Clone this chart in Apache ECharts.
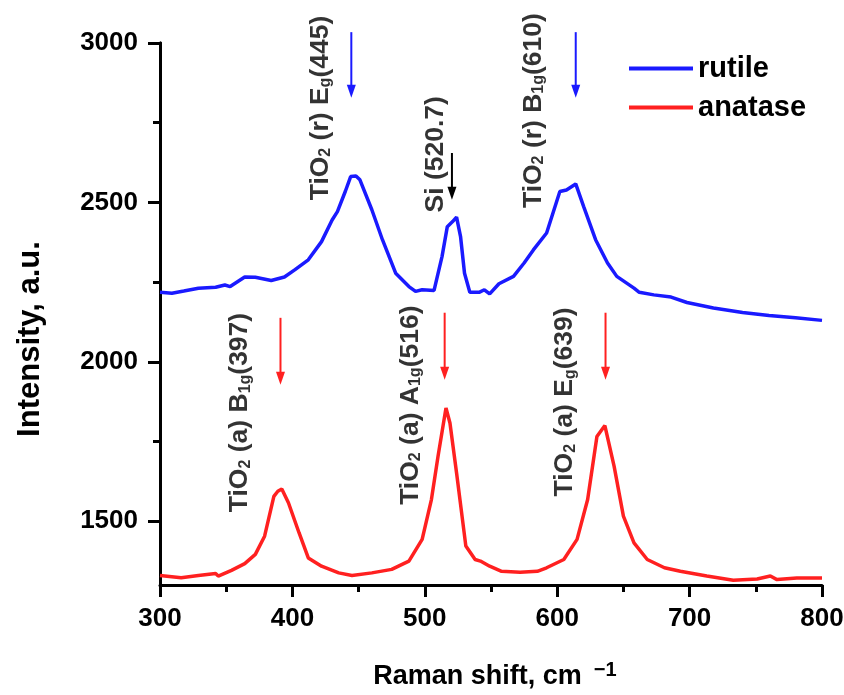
<!DOCTYPE html>
<html>
<head>
<meta charset="utf-8">
<script src="https://cdn.jsdelivr.net/npm/echarts@6/dist/echarts.min.js"></script>
<style>
  html, body { margin: 0; padding: 0; background: #fff; }
  #chart { width: 844px; height: 695px; }
</style>
</head>
<body>
<div id="chart"></div>
<script>
// rutile (blue) spectrum
const rutileShift = [300, 309, 318, 329, 342, 349, 353, 364, 372, 384, 394, 402, 412, 422, 430, 434, 440, 444, 448, 451, 460, 468, 478, 488, 493, 498, 507, 513, 517, 521, 524, 527, 530, 534, 541, 545, 549, 556, 567, 575, 582, 592, 602, 607, 614, 620, 629, 638, 645, 658, 662, 673, 686, 698, 718, 740, 760, 780, 800]
const rutileIntensity = [2218, 2215, 2222, 2231, 2234, 2241, 2236, 2266, 2265, 2255, 2266, 2289, 2320, 2377, 2445, 2471, 2535, 2581, 2583, 2571, 2477, 2383, 2278, 2236, 2221, 2226, 2224, 2330, 2424, 2440, 2454, 2393, 2278, 2218, 2218, 2226, 2213, 2245, 2268, 2310, 2351, 2404, 2534, 2539, 2558, 2487, 2383, 2310, 2268, 2231, 2218, 2210, 2203, 2186, 2169, 2155, 2145, 2138, 2130]

// anatase (red) spectrum
const anataseShift = [300, 316, 329, 342, 344, 354, 364, 372, 379, 386, 389, 392, 397, 405, 412, 422, 435, 445, 460, 475, 488, 498, 505, 510, 516, 519, 524, 531, 538, 542, 549, 558, 572, 585, 592, 605, 615, 623, 630, 636, 643, 650, 658, 668, 681, 693, 713, 733, 751, 761, 766, 781, 800]
const anataseIntensity = [1330, 1323, 1330, 1336, 1328, 1346, 1367, 1396, 1453, 1578, 1594, 1601, 1558, 1464, 1385, 1359, 1338, 1330, 1338, 1349, 1375, 1443, 1568, 1704, 1855, 1808, 1651, 1422, 1380, 1375, 1359, 1343, 1340, 1343, 1354, 1380, 1443, 1568, 1766, 1800, 1672, 1516, 1432, 1380, 1354, 1343, 1328, 1315, 1319, 1328, 1317, 1322, 1322]

// peak labels (rotated), centred at these data positions
const peakText = [
  '{a|TiO}{s|2}{a| (r) E}{s|g}{a|(445)}',
  '{a|Si (520.7)}',
  '{a|TiO}{s|2}{a| (r) B}{s|1g}{a|(610)}',
  '{a|TiO}{s|2}{a| (a) B}{s|1g}{a|(397)}',
  '{a|TiO}{s|2}{a| (a) A}{s|1g}{a|(516)}',
  '{a|TiO}{s|2}{a| (a) E}{s|g}{a|(639)}'
]
const peakTextX = [421, 508, 582, 360.5, 489, 606]
const peakTextY = [2796, 2651, 2788, 1841, 1864, 1874]

// arrows pointing at the peaks
const arrowX = [444.5, 520.5, 614, 391, 515, 636.5]
const arrowTop = [3034, 2655, 3034, 2138, 2154, 2154]
const arrowBottom = [2828, 2508, 2828, 1928, 1944, 1944]
const arrowColor = ['#1a1aff', '#000000', '#1a1aff', '#ff2020', '#ff2020', '#ff2020']

const xMin = 300, xMax = 800, xStep = 100
const yMin = 1300, yMax = 3000
const yTickValues = [1500, 2000, 2500, 3000]
const yMinorValues = [1750, 2250, 2750]

const font = '"Liberation Sans", Arial, sans-serif'
const zip = (xs, ys) => xs.map((x, i) => [x, ys[i]])

const chart = echarts.init(document.getElementById('chart'))

const renderArrow = (params, api) => {
  const i = api.value(3)
  const top = api.coord([api.value(0), api.value(1)])
  const tip = api.coord([api.value(0), api.value(2)])
  const head = 13
  const half = 4.5
  const color = arrowColor[i]
  return {
    type: 'group',
    children: [
      {
        type: 'line',
        shape: { x1: top[0], y1: top[1], x2: tip[0], y2: tip[1] - head + 2 },
        style: { stroke: color, lineWidth: 2 },
      },
      {
        type: 'polygon',
        shape: { points: [[tip[0] - half, tip[1] - head], [tip[0] + half, tip[1] - head], [tip[0], tip[1]]] },
        style: { fill: color },
      },
    ],
  }
}

const option = {
  animation: false,
  backgroundColor: '#fff',
  grid: { left: 160, right: 22, top: 43, bottom: 110, containLabel: false, outerBoundsMode: 'none' },
  legend: {
    orient: 'vertical',
    left: 629,
    top: 49,
    padding: 0,
    itemWidth: 64,
    itemHeight: 4,
    itemGap: 0,
    icon: 'rect',
    data: ['rutile', 'anatase'],
    textStyle: { fontSize: 29, fontWeight: 'bold', fontFamily: font, color: '#000', lineHeight: 39 },
  },
  xAxis: {
    type: 'value',
    min: xMin,
    max: xMax,
    interval: xStep,
    name: '{a|Raman shift, cm}{sup|\u22121}',
    nameLocation: 'middle',
    nameGap: 75,
    nameTextStyle: {
      padding: [0, 0, 0, 8],
      rich: {
        a: { fontSize: 27, fontWeight: 'bold', fontFamily: font, color: '#000', lineHeight: 30, verticalAlign: 'bottom' },
        sup: { fontSize: 20, fontWeight: 'bold', fontFamily: font, color: '#000', lineHeight: 20, verticalAlign: 'top', padding: [0, 0, 0, 12] },
      },
    },
    axisLine: { lineStyle: { color: '#000', width: 3 } },
    axisTick: { length: 12, lineStyle: { color: '#000', width: 3 } },
    minorTick: { show: true, splitNumber: 2, length: 7, lineStyle: { color: '#000', width: 3 } },
    axisLabel: { fontSize: 26, fontWeight: 'bold', fontFamily: font, color: '#000', margin: 21, formatter: (v) => String(v) },
    splitLine: { show: false },
  },
  yAxis: [
    {
      type: 'value',
      min: yMin,
      max: yMax,
      name: 'Intensity, a.u.',
      nameLocation: 'middle',
      nameRotate: 90,
      nameGap: 114,
      nameTextStyle: { fontSize: 31, fontWeight: 'bold', fontFamily: font, color: '#000', padding: [0, 50, 0, 0] },
      axisLine: { show: true, lineStyle: { color: '#000', width: 3 } },
      axisTick: { show: true, length: 12, customValues: yTickValues, lineStyle: { color: '#000', width: 3 } },
      axisLabel: { customValues: yTickValues, fontSize: 26, fontWeight: 'bold', fontFamily: font, color: '#000', margin: 22, formatter: (v) => String(v) },
      splitLine: { show: false },
    },
    {
      type: 'value',
      min: yMin,
      max: yMax,
      position: 'left',
      axisLine: { show: true, lineStyle: { color: '#000', width: 3 } },
      axisTick: { show: true, length: 7, customValues: yMinorValues, lineStyle: { color: '#000', width: 3 } },
      axisLabel: { show: false },
      splitLine: { show: false },
    },
  ],
  series: [
    {
      name: 'rutile',
      type: 'line',
      data: zip(rutileShift, rutileIntensity),
      symbol: 'none',
      lineStyle: { color: '#1a1aff', width: 3.5 },
      itemStyle: { color: '#1a1aff' },
    },
    {
      name: 'anatase',
      type: 'line',
      data: zip(anataseShift, anataseIntensity),
      symbol: 'none',
      lineStyle: { color: '#ff2020', width: 3.5 },
      itemStyle: { color: '#ff2020' },
    },
    {
      name: 'peaks',
      type: 'scatter',
      symbolSize: 0,
      silent: true,
      clip: false,
      data: peakText.map((t, i) => ({
        value: [peakTextX[i], peakTextY[i]],
        label: { formatter: t },
      })),
      label: {
        show: true,
        position: 'inside',
        rotate: 90,
        color: '#000',
        rich: {
          a: { fontSize: 26.5, fontWeight: 'bold', fontFamily: font, color: '#000', lineHeight: 26 },
          s: { fontSize: 16, fontWeight: 'bold', fontFamily: font, color: '#000', lineHeight: 10, verticalAlign: 'bottom' },
        },
      },
    },
    {
      name: 'arrows',
      type: 'custom',
      silent: true,
      clip: false,
      data: arrowX.map((x, i) => [x, arrowTop[i], arrowBottom[i], i]),
      encode: { x: 0, y: [1, 2] },
      renderItem: renderArrow,
    },
  ],
}

chart.setOption(option)
</script>
</body>
</html>
